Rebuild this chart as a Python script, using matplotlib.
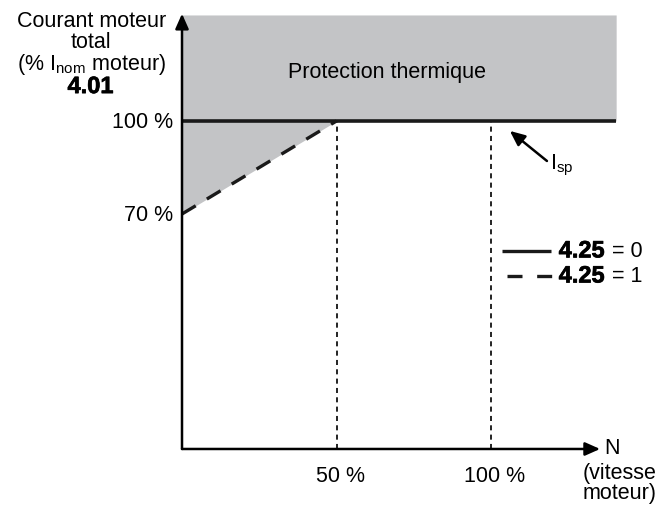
import matplotlib
matplotlib.use("Agg")
import matplotlib.pyplot as plt
import matplotlib.patheffects as pe

plt.rcParams['font.family'] = ['Liberation Sans', 'DejaVu Sans']
plt.rcParams['mathtext.fontset'] = 'custom'
plt.rcParams['mathtext.rm'] = 'Liberation Sans'
plt.rcParams['mathtext.it'] = 'Liberation Sans'

# Speed axis (N, % of nominal speed) and current axis (% of nominal motor current)
speed_ticks = [50, 100]
speed_labels = ['50 %', '100 %']
current_ticks = [70, 100]
current_labels = ['70 %', '100 %']

# Current limit when 4.25 = 0 (flat) and when 4.25 = 1 (derated at low speed)
limit_flat_x = [0, 140.5]
limit_flat_y = [100, 100]
limit_derated_x = [0, 50]
limit_derated_y = [70, 100]

# Thermal protection zone boundary
zone_x = [0, 50, 140.5]
zone_low = [70, 100, 100]
zone_top = 134.2

GREY = '#c3c4c6'
FS = 15.5
BOLD = dict(fontsize=17, fontweight='bold',
            path_effects=[pe.withStroke(linewidth=0.5, foreground='black')])

fig = plt.figure(figsize=(6.69, 5.06), dpi=100)
ax = fig.add_axes([0, 0, 1, 1])
ax.set_xlim(-58.9, 157.6)
ax.set_ylim(-23.87, 139.35)
ax.axis('off')

# thermal protection zone
ax.fill_between(zone_x, zone_low, zone_top, color=GREY, lw=0, zorder=1)

# axes with arrows
y_base = -5.8
arrow = dict(arrowstyle='-|>,head_length=0.45,head_width=0.2', color='black',
             lw=1.8, shrinkA=0, shrinkB=0, mutation_scale=20)
ax.annotate('', xy=(0, 134.6), xytext=(0, y_base), arrowprops=arrow, zorder=5)
ax.annotate('', xy=(135.3, y_base), xytext=(0, y_base), arrowprops=arrow, zorder=5)

# vertical guides at speed ticks
for xs in speed_ticks:
    ax.plot([xs, xs], [y_base, 100], color='#222222', lw=1.4,
            linestyle=(0, (2.6, 2.2)), zorder=2)

# current limits
ax.plot(limit_flat_x, limit_flat_y, color='#1a1a1a', lw=2.6, solid_capstyle='butt', zorder=4)
ax.plot(limit_derated_x, limit_derated_y, color='#1a1a1a', lw=2.4,
        linestyle=(0, (4.8, 3.9)), zorder=4)

# tick labels
for xs, lab in zip(speed_ticks, speed_labels):
    ax.text(xs + 1.2, -14.4, lab, ha='center', va='center', fontsize=FS)
for ys, lab in zip(current_ticks, current_labels):
    ax.text(-2.9, ys - 0.2, lab, ha='right', va='center', fontsize=FS)

# axis titles
ax.text(-29.4, 132.3, 'Courant moteur', ha='center', va='center', fontsize=FS)
ax.text(-29.4, 125.5, 'total', ha='center', va='center', fontsize=FS)
ax.text(-29.4, 118.4, r'(% I$_{\mathrm{nom}}$ moteur)', ha='center', va='center', fontsize=FS)
ax.text(-29.6, 111.1, '4.01', ha='center', va='center', **BOLD)
ax.text(136.6, -5.3, 'N', ha='left', va='center', fontsize=FS)
ax.text(141.7, -13.4, '(vitesse', ha='center', va='center', fontsize=FS)
ax.text(141.7, -19.8, 'moteur)', ha='center', va='center', fontsize=FS)

ax.text(66.5, 116.1, 'Protection thermique', ha='center', va='center', fontsize=FS)

# I_sp pointer
ax.annotate('', xy=(106.1, 96.8), xytext=(118.1, 87.1),
            arrowprops=dict(arrowstyle='-|>,head_length=0.45,head_width=0.2', color='black',
                            lw=1.8, shrinkA=0, shrinkB=0, mutation_scale=20))
ax.text(119.0, 86.0, r'I$_{\mathrm{sp}}$', ha='left', va='center', fontsize=FS)

# key for parameter 4.25
ax.plot([103.6, 119.4], [58.1, 58.1], color='#1a1a1a', lw=2.4, solid_capstyle='butt')
ax.plot([105.2, 120.0], [50.0, 50.0], color='#1a1a1a', lw=2.4,
        linestyle=(0, (4.5, 4.4)))
for yk, val in [(58.1, '0'), (50.0, '1')]:
    ax.text(121.9, yk, '4.25', ha='left', va='center', **BOLD)
    ax.text(139.3, yk, '= ' + val, ha='left', va='center', fontsize=FS)

fig.savefig('out.png', dpi=100)
